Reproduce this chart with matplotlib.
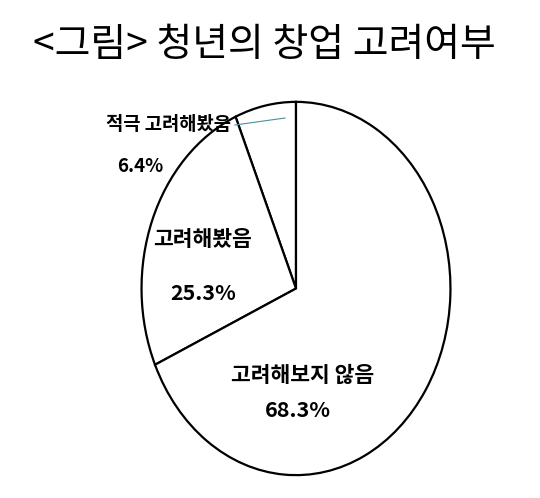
import matplotlib.pyplot as plt

plt.rcParams['font.family'] = ['Noto Sans CJK KR', 'DejaVu Sans']

labels = ["적극 고려해봤음", "고려해봤음", "고려해보지 않음"]
values = [6.4, 25.3, 68.3]
# label anchor points in image pixels (x, y from top)
label_px = [(168, 125), (203, 240), (303, 375)]
value_px = [(140, 167), (203, 293), (298, 410)]
label_size = [13.5, 15.5, 15.5]

W, H = 540, 498
fig = plt.figure(figsize=(W / 100, H / 100), dpi=100)

# pie drawn into a stretched axes so it becomes an ellipse
ax = fig.add_axes([140 / W, 1 - 477 / H, 312 / W, 377 / H])
ax.pie(values, startangle=90, counterclock=True, colors=["white"] * 3,
       wedgeprops=dict(edgecolor="black", linewidth=1.6))
ax.set_aspect("auto")
ax.set_xlim(-1.01, 1.01)
ax.set_ylim(-1.01, 1.01)
ax.axis("off")

fig.text(0.49, 1 - 45 / H, "<그림> 청년의 창업 고려여부", ha="center", va="center",
         fontsize=28, fontweight="medium")

for (lx, ly), (vx, vy), lab, v, fs in zip(label_px, value_px, labels, values, label_size):
    fig.text(lx / W, 1 - ly / H, lab, ha="center", va="center",
             fontsize=fs, fontweight="bold")
    fig.text(vx / W, 1 - vy / H, "{}%".format(v), ha="center", va="center",
             fontsize=fs, fontweight="bold")

# leader line for the small slice
fig.add_artist(plt.Line2D([235 / W, 285 / W], [1 - 125 / H, 1 - 118 / H],
                          color="#4a90a0", linewidth=0.8))

fig.savefig("out.png", dpi=100, facecolor="white")
